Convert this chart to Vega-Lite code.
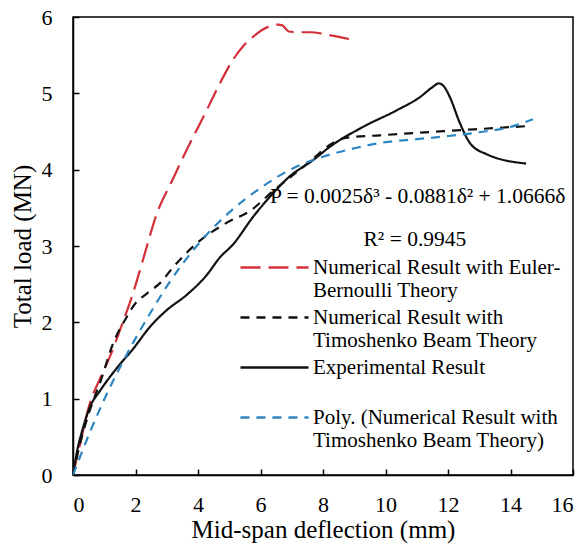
{
  "$schema": "https://vega.github.io/schema/vega-lite/v6.json",
  "width": 500,
  "height": 458,
  "autosize": {"type": "none"},
  "padding": {"left": 73, "top": 17, "right": 14, "bottom": 72},
  "background": "white",
  "config": {
    "view": {"stroke": "black", "strokeWidth": 1.5},
    "font": "Liberation Serif",
    "axis": {
      "grid": false,
      "domainColor": "black",
      "domainWidth": 1.5,
      "tickColor": "black",
      "tickWidth": 1.5,
      "tickSize": -6,
      "labelFont": "Liberation Serif",
      "labelFontSize": 22,
      "labelColor": "black",
      "titleFont": "Liberation Serif",
      "titleFontSize": 25,
      "titleFontWeight": "normal",
      "titleColor": "black"
    },
    "legend": {
      "labelFont": "Liberation Serif",
      "labelFontSize": 21,
      "labelColor": "black",
      "labelLimit": 400
    }
  },
  "datasets": {
    "curves": [
      {"series": "Numerical Result with Euler-Bernoulli Theory", "d": 0, "P": 0},
      {"series": "Numerical Result with Euler-Bernoulli Theory", "d": 0.25, "P": 0.45},
      {"series": "Numerical Result with Euler-Bernoulli Theory", "d": 0.54, "P": 0.94},
      {"series": "Numerical Result with Euler-Bernoulli Theory", "d": 0.85, "P": 1.25},
      {"series": "Numerical Result with Euler-Bernoulli Theory", "d": 1.18, "P": 1.55},
      {"series": "Numerical Result with Euler-Bernoulli Theory", "d": 1.55, "P": 1.95},
      {"series": "Numerical Result with Euler-Bernoulli Theory", "d": 1.92, "P": 2.38},
      {"series": "Numerical Result with Euler-Bernoulli Theory", "d": 2.24, "P": 2.82},
      {"series": "Numerical Result with Euler-Bernoulli Theory", "d": 2.68, "P": 3.42},
      {"series": "Numerical Result with Euler-Bernoulli Theory", "d": 3.2, "P": 3.88},
      {"series": "Numerical Result with Euler-Bernoulli Theory", "d": 3.64, "P": 4.26},
      {"series": "Numerical Result with Euler-Bernoulli Theory", "d": 4.28, "P": 4.78},
      {"series": "Numerical Result with Euler-Bernoulli Theory", "d": 4.7, "P": 5.13},
      {"series": "Numerical Result with Euler-Bernoulli Theory", "d": 5.12, "P": 5.44},
      {"series": "Numerical Result with Euler-Bernoulli Theory", "d": 5.45, "P": 5.62},
      {"series": "Numerical Result with Euler-Bernoulli Theory", "d": 5.76, "P": 5.74},
      {"series": "Numerical Result with Euler-Bernoulli Theory", "d": 6.05, "P": 5.83},
      {"series": "Numerical Result with Euler-Bernoulli Theory", "d": 6.3, "P": 5.88},
      {"series": "Numerical Result with Euler-Bernoulli Theory", "d": 6.55, "P": 5.9},
      {"series": "Numerical Result with Euler-Bernoulli Theory", "d": 6.7, "P": 5.89},
      {"series": "Numerical Result with Euler-Bernoulli Theory", "d": 6.8, "P": 5.85},
      {"series": "Numerical Result with Euler-Bernoulli Theory", "d": 6.9, "P": 5.81},
      {"series": "Numerical Result with Euler-Bernoulli Theory", "d": 7.2, "P": 5.8},
      {"series": "Numerical Result with Euler-Bernoulli Theory", "d": 7.6, "P": 5.8},
      {"series": "Numerical Result with Euler-Bernoulli Theory", "d": 8.1, "P": 5.77},
      {"series": "Numerical Result with Euler-Bernoulli Theory", "d": 8.5, "P": 5.74},
      {"series": "Numerical Result with Euler-Bernoulli Theory", "d": 9.08, "P": 5.69},

      {"series": "Numerical Result with Timoshenko Beam Theory", "d": 0, "P": 0},
      {"series": "Numerical Result with Timoshenko Beam Theory", "d": 0.25, "P": 0.45},
      {"series": "Numerical Result with Timoshenko Beam Theory", "d": 0.5, "P": 0.8},
      {"series": "Numerical Result with Timoshenko Beam Theory", "d": 0.9, "P": 1.25},
      {"series": "Numerical Result with Timoshenko Beam Theory", "d": 1.29, "P": 1.73},
      {"series": "Numerical Result with Timoshenko Beam Theory", "d": 1.72, "P": 2.07},
      {"series": "Numerical Result with Timoshenko Beam Theory", "d": 2.0, "P": 2.25},
      {"series": "Numerical Result with Timoshenko Beam Theory", "d": 2.37, "P": 2.38},
      {"series": "Numerical Result with Timoshenko Beam Theory", "d": 2.8, "P": 2.52},
      {"series": "Numerical Result with Timoshenko Beam Theory", "d": 3.2, "P": 2.72},
      {"series": "Numerical Result with Timoshenko Beam Theory", "d": 4.0, "P": 3.05},
      {"series": "Numerical Result with Timoshenko Beam Theory", "d": 4.9, "P": 3.3},
      {"series": "Numerical Result with Timoshenko Beam Theory", "d": 5.7, "P": 3.47},
      {"series": "Numerical Result with Timoshenko Beam Theory", "d": 6.4, "P": 3.72},
      {"series": "Numerical Result with Timoshenko Beam Theory", "d": 7.26, "P": 4.0},
      {"series": "Numerical Result with Timoshenko Beam Theory", "d": 7.7, "P": 4.15},
      {"series": "Numerical Result with Timoshenko Beam Theory", "d": 8.2, "P": 4.32},
      {"series": "Numerical Result with Timoshenko Beam Theory", "d": 8.77, "P": 4.42},
      {"series": "Numerical Result with Timoshenko Beam Theory", "d": 9.82, "P": 4.45},
      {"series": "Numerical Result with Timoshenko Beam Theory", "d": 10.9, "P": 4.48},
      {"series": "Numerical Result with Timoshenko Beam Theory", "d": 12.5, "P": 4.52},
      {"series": "Numerical Result with Timoshenko Beam Theory", "d": 14.5, "P": 4.57},

      {"series": "Experimental Result", "d": 0, "P": 0},
      {"series": "Experimental Result", "d": 0.12, "P": 0.29},
      {"series": "Experimental Result", "d": 0.33, "P": 0.63},
      {"series": "Experimental Result", "d": 0.54, "P": 0.89},
      {"series": "Experimental Result", "d": 0.86, "P": 1.1},
      {"series": "Experimental Result", "d": 1.4, "P": 1.4},
      {"series": "Experimental Result", "d": 1.92, "P": 1.65},
      {"series": "Experimental Result", "d": 2.46, "P": 1.94},
      {"series": "Experimental Result", "d": 3.0, "P": 2.16},
      {"series": "Experimental Result", "d": 3.64, "P": 2.36},
      {"series": "Experimental Result", "d": 4.28, "P": 2.62},
      {"series": "Experimental Result", "d": 4.7, "P": 2.85},
      {"series": "Experimental Result", "d": 5.12, "P": 3.02},
      {"series": "Experimental Result", "d": 5.76, "P": 3.38},
      {"series": "Experimental Result", "d": 6.4, "P": 3.69},
      {"series": "Experimental Result", "d": 6.9, "P": 3.9},
      {"series": "Experimental Result", "d": 7.7, "P": 4.13},
      {"series": "Experimental Result", "d": 8.22, "P": 4.3},
      {"series": "Experimental Result", "d": 9.28, "P": 4.56},
      {"series": "Experimental Result", "d": 10.37, "P": 4.78},
      {"series": "Experimental Result", "d": 11.1, "P": 4.95},
      {"series": "Experimental Result", "d": 11.5, "P": 5.08},
      {"series": "Experimental Result", "d": 11.7, "P": 5.13},
      {"series": "Experimental Result", "d": 11.85, "P": 5.1},
      {"series": "Experimental Result", "d": 12.06, "P": 4.95},
      {"series": "Experimental Result", "d": 12.38, "P": 4.61},
      {"series": "Experimental Result", "d": 12.7, "P": 4.35},
      {"series": "Experimental Result", "d": 13.25, "P": 4.2},
      {"series": "Experimental Result", "d": 14.5, "P": 4.08},

      {"series": "Poly. (Numerical Result with Timoshenko Beam Theory)", "d": 0, "P": 0},
      {"series": "Poly. (Numerical Result with Timoshenko Beam Theory)", "d": 0.54, "P": 0.56},
      {"series": "Poly. (Numerical Result with Timoshenko Beam Theory)", "d": 1.09, "P": 1.07},
      {"series": "Poly. (Numerical Result with Timoshenko Beam Theory)", "d": 1.72, "P": 1.58},
      {"series": "Poly. (Numerical Result with Timoshenko Beam Theory)", "d": 2.37, "P": 2.05},
      {"series": "Poly. (Numerical Result with Timoshenko Beam Theory)", "d": 3.0, "P": 2.47},
      {"series": "Poly. (Numerical Result with Timoshenko Beam Theory)", "d": 4.0, "P": 3.02},
      {"series": "Poly. (Numerical Result with Timoshenko Beam Theory)", "d": 5.0, "P": 3.44},
      {"series": "Poly. (Numerical Result with Timoshenko Beam Theory)", "d": 6.0, "P": 3.76},
      {"series": "Poly. (Numerical Result with Timoshenko Beam Theory)", "d": 7.0, "P": 4.01},
      {"series": "Poly. (Numerical Result with Timoshenko Beam Theory)", "d": 8.0, "P": 4.17},
      {"series": "Poly. (Numerical Result with Timoshenko Beam Theory)", "d": 9.0, "P": 4.28},
      {"series": "Poly. (Numerical Result with Timoshenko Beam Theory)", "d": 10.0, "P": 4.36},
      {"series": "Poly. (Numerical Result with Timoshenko Beam Theory)", "d": 11.0, "P": 4.4},
      {"series": "Poly. (Numerical Result with Timoshenko Beam Theory)", "d": 12.0, "P": 4.44},
      {"series": "Poly. (Numerical Result with Timoshenko Beam Theory)", "d": 13.0, "P": 4.49},
      {"series": "Poly. (Numerical Result with Timoshenko Beam Theory)", "d": 14.0, "P": 4.56},
      {"series": "Poly. (Numerical Result with Timoshenko Beam Theory)", "d": 14.72, "P": 4.66}
    ],
    "notes": [
      {"label": "P = 0.0025δ³ - 0.0881δ² + 1.0666δ", "kind": "eq"},
      {"label": "R² = 0.9945", "kind": "r2"}
    ]
  },
  "layer": [
    {
      "data": {"name": "curves"},
      "mark": {"type": "line", "strokeWidth": 2.2, "interpolate": "monotone", "clip": true},
      "encoding": {
        "x": {
          "field": "d", "type": "quantitative",
          "scale": {"domain": [0, 16], "nice": false},
          "axis": {"values": [0, 2, 4, 6, 8, 10, 12, 14, 16], "format": "d", "title": "Mid-span deflection (mm)", "labelPadding": 25, "titlePadding": 2}
        },
        "y": {
          "field": "P", "type": "quantitative",
          "scale": {"domain": [0, 6], "nice": false},
          "axis": {"values": [0, 1, 2, 3, 4, 5, 6], "format": "d", "title": "Total load (MN)", "labelPadding": 27, "titlePadding": 6}
        },
        "color": {
          "field": "series", "type": "nominal",
          "scale": {
            "domain": ["Numerical Result with Euler-Bernoulli Theory", "Numerical Result with Timoshenko Beam Theory", "Experimental Result", "Poly. (Numerical Result with Timoshenko Beam Theory)"],
            "range": ["#D3303A", "#111111", "#111111", "#2E86C1"]
          },
          "legend": {
            "title": null,
            "orient": "none",
            "legendX": 185,
            "legendY": 234,
            "symbolType": "M-2.27,0H2.27",
            "symbolSize": 900,
            "symbolStrokeWidth": 2.3,
            "labelOffset": 22,
            "labelBaseline": "middle",
            "labelLineHeight": 23,
            "rowPadding": 0,
            "padding": 0,
            "labelExpr": "datum.label == 'Numerical Result with Euler-Bernoulli Theory' ? ['Numerical Result with Euler-', 'Bernoulli Theory'] : datum.label == 'Numerical Result with Timoshenko Beam Theory' ? ['Numerical Result with', 'Timoshenko Beam Theory'] : datum.label == 'Experimental Result' ? ['Experimental Result', ''] : ['Poly. (Numerical Result with', 'Timoshenko Beam Theory)']"
          }
        },
        "strokeDash": {
          "field": "series", "type": "nominal",
          "scale": {
            "domain": ["Numerical Result with Euler-Bernoulli Theory", "Numerical Result with Timoshenko Beam Theory", "Experimental Result", "Poly. (Numerical Result with Timoshenko Beam Theory)"],
            "range": [[20, 8], [9, 7], [1, 0], [9, 7]]
          }
        }
      }
    },
    {
      "data": {"name": "notes"},
      "transform": [{"filter": "datum.kind == 'eq'"}],
      "mark": {"type": "text", "align": "left", "baseline": "middle", "font": "Liberation Serif", "fontSize": 21.5, "color": "black"},
      "encoding": {
        "x": {"datum": 6.3, "type": "quantitative"},
        "y": {"datum": 3.64, "type": "quantitative"},
        "text": {"field": "label"}
      }
    },
    {
      "data": {"name": "notes"},
      "transform": [{"filter": "datum.kind == 'r2'"}],
      "mark": {"type": "text", "align": "center", "baseline": "middle", "font": "Liberation Serif", "fontSize": 21.5, "color": "black"},
      "encoding": {
        "x": {"datum": 10.94, "type": "quantitative"},
        "y": {"datum": 3.08, "type": "quantitative"},
        "text": {"field": "label"}
      }
    }
  ]
}
